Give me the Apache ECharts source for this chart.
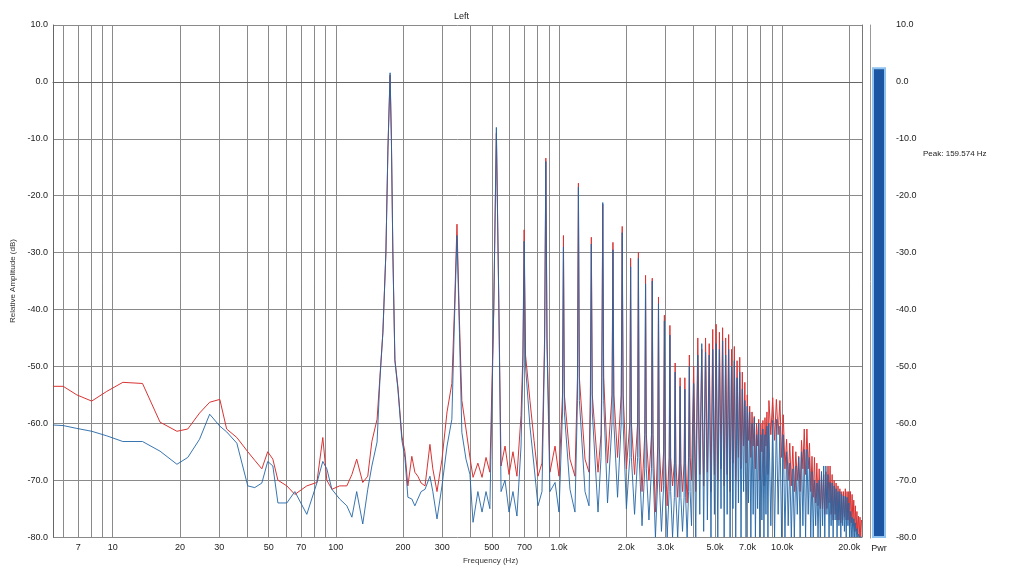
<!DOCTYPE html>
<html>
<head>
<meta charset="utf-8">
<title>Left - spectrum</title>
<script src="https://cdn.jsdelivr.net/npm/echarts@6/dist/echarts.min.js"></script>
<style>
  html, body { margin: 0; padding: 0; background: #fff; }
  #chart { width: 1015px; height: 570px; }
</style>
</head>
<body>
<div id="chart"></div>
<script>
// axis ticks
var gridHz = [6, 7, 8, 9, 10, 20, 30, 40, 50, 60, 70, 80, 90, 100, 200, 300, 400, 500, 600, 700, 800, 900,
  1000, 2000, 3000, 4000, 5000, 6000, 7000, 8000, 9000, 10000, 20000];
var labelHz = [7, 10, 20, 30, 50, 70, 100, 200, 300, 500, 700, 1000, 2000, 3000, 5000, 7000, 10000, 20000];

// low end up to the fundamental
var lowHz = [5.4, 6.0, 6.9, 8.05, 9.4, 11.1, 13.6, 16.3, 19.4, 21.7,
  24.5, 27.2, 30.2, 32.4, 36.0, 40.3, 43.3, 46.6, 49.5, 52.2,
  55.0, 60.3, 65.5, 74.1, 82.2, 87.4, 91.1, 96.0, 104, 112,
  118, 124, 132, 139, 145, 153, 157.5, 162.5, 167.6, 171.1,
  175, 177.4, 180.1, 183.9, 189.7, 197.7, 203.9, 210.3];
var lowRed = [-53.5, -53.5, -55, -56.1, -54.4, -52.8, -53, -59.8, -61.4, -61,
  -58.2, -56.3, -55.8, -61, -62.5, -65, -66.5, -68, -65, -66.3,
  -70, -71, -72.5, -71, -70.4, -62.5, -70, -71.6, -71, -71,
  -69, -66.3, -70.4, -69.3, -63.2, -59.3, -52, -44, -30, -12,
  1.2, -10, -30, -48.8, -53.6, -62.3, -65, -71];
var lowBlue = [-60.3, -60.4, -60.9, -61.4, -62.2, -63.2, -63.2, -64.9, -67.2, -66,
  -62.8, -58.4, -60.5, -61.5, -63.5, -71, -71.3, -70.5, -66.7, -67.5,
  -74, -74, -72, -76, -70.5, -66.7, -68, -71.6, -73.3, -74.5,
  -76.5, -72, -77.7, -71.6, -67.5, -63.3, -52.5, -44, -30, -12,
  1.6, -10, -30, -49, -54, -63, -66, -73];

// harmonic peaks (2nd .. 50th, then every other one)
var harmHz = [349, 524, 698, 873, 1047, 1222, 1396, 1571, 1745, 1920,
  2094, 2269, 2443, 2618, 2792, 2967, 3141, 3316, 3490, 3665,
  3839, 4014, 4188, 4363, 4537, 4712, 4886, 5061, 5235, 5410,
  5584, 5759, 5933, 6108, 6282, 6457, 6631, 6806, 6980, 7155,
  7329, 7504, 7678, 7853, 8027, 8202, 8376, 8551, 8725, 9074,
  9423, 9772, 10121, 10470, 10819, 11168, 11517, 11866, 12215, 12564,
  12913, 13262, 13611, 13960, 14309, 14658, 15007, 15356, 15705, 16054,
  16403, 16752, 17101, 17450, 17799, 18148, 18497, 18846, 19195, 19544,
  19893, 20242, 20591, 20940, 21289, 21638, 21987, 22336, 22685];
var harmRed = [-25, -9, -26, -13.4, -27, -17.8, -27.3, -21.5, -28.2, -25.4,
  -31, -30, -34, -34.5, -37.8, -41, -42.8, -49.4, -52, -52,
  -48, -50, -45, -47, -45, -46, -43.5, -42.6, -44, -43.2,
  -45, -44.4, -47, -46.5, -49, -48.4, -51, -52.8, -55, -57,
  -58, -58.8, -60, -59.3, -60, -59.5, -59, -58, -56, -55.5,
  -55.8, -56, -58.5, -62.8, -63.5, -64, -65, -65.8, -63, -61,
  -61, -63.5, -65.8, -66, -67, -68, -68.5, -69, -68.5, -67.5,
  -67.5, -69, -70, -70.5, -71, -71.5, -72, -72, -71.5, -72,
  -72, -72, -72.5, -73.5, -74.5, -75.5, -76.3, -76.5, -77];
var harmBlue = [-27, -8, -28, -14, -29, -18.5, -28.5, -21.2, -29.5, -26.5,
  -32.5, -31, -35.5, -35, -39, -42, -44.5, -51, -53.5, -54,
  -50, -53, -48, -46, -47.5, -48, -47, -46, -47, -45.5,
  -48, -47, -50, -49, -52, -51, -54, -56, -57, -58,
  -60, -59, -62, -60, -62, -61, -62, -60.5, -60, -59.5,
  -59.3, -60.5, -62, -65, -67, -68, -67.5, -66, -65, -64.6,
  -64.6, -66, -68.5, -70, -70.5, -70, -68.5, -67.5, -67.5, -69,
  -70.4, -70.5, -71, -71.5, -72, -72, -72.5, -72.8, -72.8, -73,
  -74, -75.5, -76.5, -76.8, -77.5, -78.5, -79.5, -80, -80];

// noise floor and skirts between the harmonics
var floorHz = [219, 226, 233, 241, 251, 264, 272, 284, 299, 315,
  331, 340, 358, 367, 383, 399, 412, 433, 452, 471,
  490, 510, 537, 550, 573, 597, 622, 648, 676, 689,
  708, 741, 773, 805, 839, 862, 884, 911, 960, 1000,
  1037, 1057, 1120, 1179, 1210, 1234, 1308, 1363, 1382, 1410,
  1496, 1543, 1555, 1586, 1650, 1728, 1762, 1830, 1900, 1939,
  2005, 2077, 2111, 2181, 2251, 2287, 2356, 2423, 2463, 2530,
  2597, 2639, 2705, 2770, 2814, 2879, 2943, 2991, 3054, 3116,
  3166, 3228, 3289, 3343, 3403, 3462, 3518, 3577, 3636, 3694,
  3752, 3808, 3870, 3926, 4101, 4275, 4450, 4624, 4799, 4973,
  5148, 5322, 5497, 5671, 5846, 6020, 6195, 6370, 6544, 6718,
  6893, 7067, 7242, 7416, 7591, 7765, 7940, 8114, 8289, 8463,
  8638, 8900, 9249, 9598, 9947, 10296, 10645, 10994, 11343, 11692,
  12041, 12390, 12739, 13088, 13437, 13786, 14135, 14484, 14833, 15182,
  15531, 15880, 16229, 16578, 16927, 17276, 17625, 17974, 18323, 18672,
  19021, 19370, 19719, 20068, 20417, 20766, 21115, 21464, 21813, 22162,
  22510];
var floorRed = [-65.8, -68.6, -69.3, -70.5, -71, -63.7, -68, -72, -66.3, -58,
  -53, -40, -42, -56, -61, -66, -69.5, -67, -69.5, -66,
  -68.6, -40, -38, -67.5, -64, -69, -65, -69.3, -58.6, -48,
  -48, -56, -63, -69.3, -67, -45, -45, -68.6, -64, -69.3,
  -55, -55, -66.3, -69.3, -52, -52, -66.3, -68.6, -55, -55,
  -68.6, -62, -52, -52, -67, -55, -55, -66, -55, -55,
  -68, -60, -60, -69, -60, -60, -72, -62, -62, -70,
  -62, -62, -75.6, -64, -64, -72, -65, -65, -74.5, -66,
  -66, -71, -67, -67, -73, -67, -67, -72, -67, -67,
  -74, -66, -66, -70, -72, -69, -71, -68.6, -72, -69,
  -70, -68, -71, -69, -72, -67, -70, -66, -68, -64,
  -67, -63, -66, -64, -68, -64, -70, -65, -71, -64,
  -69, -62, -63, -62, -66, -68, -70, -71, -72, -70,
  -72, -68, -69, -68, -72, -73, -74, -74.5, -75, -75,
  -76, -75, -74, -76, -77, -76, -77, -77, -77.5, -77,
  -76.5, -77, -77, -78, -77.5, -78, -79, -79, -79.5, -80,
  -80];
var floorBlue = [-73.3, -74.5, -73.3, -72, -71.6, -69.3, -72, -76.8, -71, -64,
  -59.3, -42, -44, -61.6, -66.3, -69, -77.4, -72, -75.6, -72,
  -75, -40, -38, -72, -70, -75.6, -72, -76.3, -64, -50,
  -50, -60.5, -67.5, -74.5, -72, -47, -47, -72, -70.4, -75.6,
  -58, -58, -71.6, -75.6, -56, -56, -72, -74.5, -58, -58,
  -75.6, -66, -56, -56, -74, -60, -60, -73, -60, -60,
  -75, -66, -66, -76, -66, -66, -78, -68, -68, -77,
  -68, -68, -80, -70, -70, -79, -71, -71, -80, -72,
  -72, -80, -73, -73, -80, -73, -73, -79, -73, -73,
  -80, -72, -72, -78, -80, -76, -79, -77, -80, -76,
  -80, -75, -80, -76, -80, -75, -80, -74, -80, -72,
  -80, -74, -80, -76, -80, -75, -80, -77, -80, -76,
  -80, -78, -80, -76, -80, -80, -78, -80, -80, -76,
  -80, -78, -80, -76, -80, -80, -78, -80, -80, -78,
  -80, -76, -80, -78, -80, -77, -80, -78, -80, -78,
  -79, -80, -78, -80, -80, -80, -80, -80, -80, -80,
  -80];

// level meter on the right
var meterMin = -80;
var meterMax = 10;
var meterCats = ['Pwr'];
var meterLevel = [2.6];
var peakText = 'Peak: 159.574 Hz';

function pairs(hz, db) {
  return hz.map(function (h, i) { return [h, db[i]]; });
}
function spectrum(parts) {
  var out = [];
  parts.forEach(function (p) { out = out.concat(pairs(p[0], p[1])); });
  return out.sort(function (a, b) { return a[0] - b[0]; });
}

var redData = spectrum([[lowHz, lowRed], [harmHz, harmRed], [floorHz, floorRed]]);
var blueData = spectrum([[lowHz, lowBlue], [harmHz, harmBlue], [floorHz, floorBlue]]);

function hzLabel(v) {
  if (v >= 1000) return (v / 1000).toFixed(1) + 'k';
  return String(v);
}

var chart = echarts.init(document.getElementById('chart'), null, { renderer: 'canvas' });
var axisFont = { fontFamily: 'Liberation Sans', fontSize: 9, color: '#222' };

var option = {
  animation: false,
  backgroundColor: '#fff',
  title: {
    text: 'Left',
    left: 449,
    top: 7,
    textStyle: { fontFamily: 'Liberation Sans', fontSize: 9, fontWeight: 'normal', color: '#222' }
  },
  grid: [
    { left: 53, right: 153, top: 25, bottom: 32 },   // spectrum
    { left: 872, width: 14, top: 25, bottom: 32 }     // meter
  ],
  xAxis: [
    {
      type: 'log',
      gridIndex: 0,
      min: 5.4,
      max: 22800,
      name: 'Frequency (Hz)',
      nameLocation: 'middle',
      nameGap: 17,
      nameTextStyle: { fontFamily: 'Liberation Sans', fontSize: 8, color: '#333', padding: [0, 0, 0, 66] },
      axisLine: { show: true, lineStyle: { color: '#666' } },
      axisTick: { show: false, customValues: gridHz },
      axisLabel: Object.assign({ customValues: labelHz, formatter: hzLabel, margin: 6 }, axisFont),
      splitLine: { show: true, lineStyle: { color: '#8a8a8a', width: 1 } },
      minorSplitLine: { show: false }
    },
    {
      type: 'category',
      gridIndex: 1,
      data: meterCats,
      axisLine: { show: false },
      axisTick: { show: false },
      axisLabel: Object.assign({ margin: 6 }, axisFont)
    }
  ],
  yAxis: [
    {
      type: 'value',
      gridIndex: 0,
      min: -80,
      max: 10,
      interval: 10,
      name: 'Relative Amplitude (dB)',
      nameLocation: 'middle',
      nameRotate: 90,
      nameGap: 36,
      nameTextStyle: { fontFamily: 'Liberation Sans', fontSize: 8, color: '#333' },
      axisLine: { show: true, lineStyle: { color: '#666' } },
      axisTick: { show: false },
      axisLabel: Object.assign({ formatter: function (v) { return v.toFixed(1); }, margin: 5 }, axisFont),
      splitLine: { show: true, lineStyle: { color: '#8a8a8a', width: 1 } }
    },
    {
      type: 'value',
      gridIndex: 1,
      position: 'right',
      min: 0,
      max: meterMax - meterMin,
      interval: 10,
      axisLine: { show: false },
      axisTick: { show: false },
      splitLine: { show: false },
      axisLabel: Object.assign({ margin: 10, formatter: function (v) { return (v + meterMin).toFixed(1); } }, axisFont)
    },
    {
      type: 'value',
      gridIndex: 1,
      position: 'left',
      offset: 2,
      min: 0,
      max: meterMax - meterMin,
      axisLine: { show: true, lineStyle: { color: '#999' } },
      axisTick: { show: false },
      axisLabel: { show: false },
      splitLine: { show: false }
    },
    {
      type: 'value',
      gridIndex: 0,
      position: 'right',
      min: -80,
      max: 10,
      axisLine: { show: true, lineStyle: { color: '#777' } },
      axisTick: { show: false },
      axisLabel: { show: false },
      splitLine: { show: false }
    }
  ],
  series: [
    {
      name: 'Right',
      type: 'line',
      xAxisIndex: 0,
      yAxisIndex: 0,
      data: redData,
      showSymbol: false,
      lineStyle: { color: '#d83434', width: 1 },
      z: 2
    },
    {
      name: 'Left',
      type: 'line',
      xAxisIndex: 0,
      yAxisIndex: 0,
      data: blueData,
      showSymbol: false,
      lineStyle: { color: '#2466a6', width: 1, opacity: 0.9 },
      z: 3
    },
    {
      name: 'Pwr',
      type: 'bar',
      xAxisIndex: 1,
      yAxisIndex: 1,
      barWidth: 14,
      data: meterLevel.map(function (v) { return v - meterMin; }),
      itemStyle: { color: '#1c56a2', borderColor: '#8fc2ee', borderWidth: 2 }
    }
  ],
  graphic: [
    {
      type: 'text',
      left: 923,
      top: 150,
      style: { text: peakText, fontFamily: 'Liberation Sans', fontSize: 8, fill: '#222' }
    }
  ]
};

chart.setOption(option);
</script>
</body>
</html>
